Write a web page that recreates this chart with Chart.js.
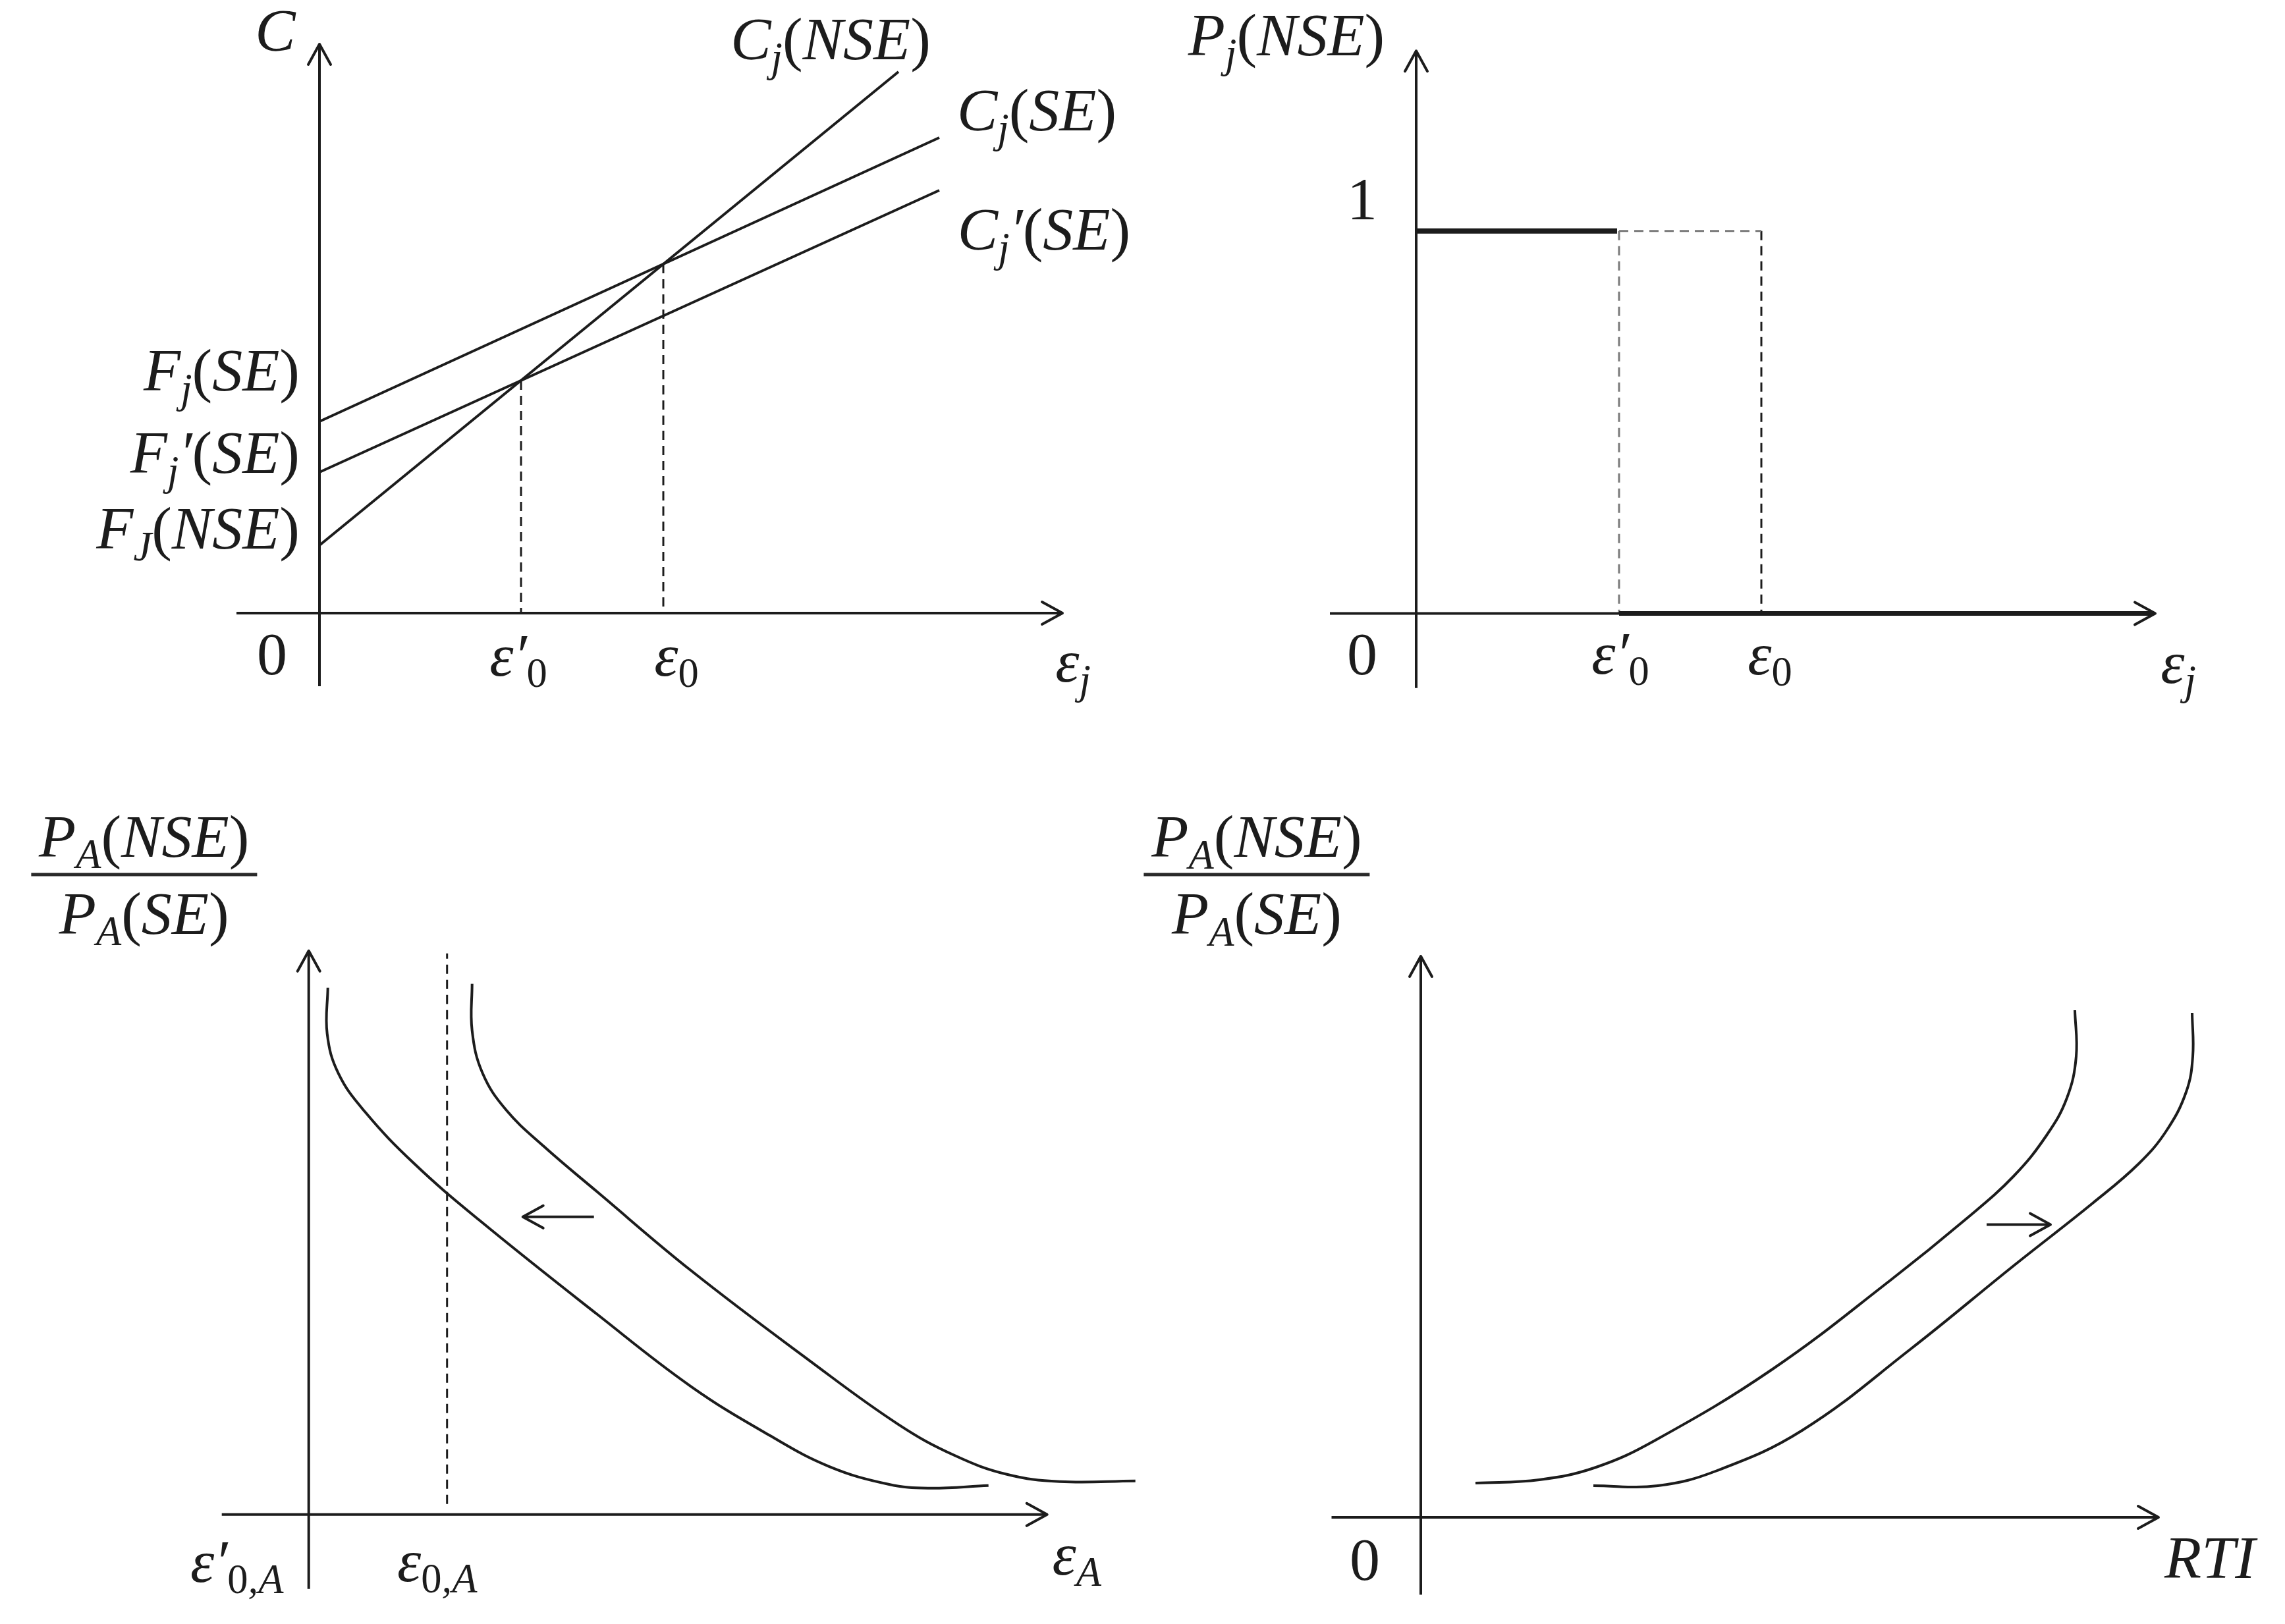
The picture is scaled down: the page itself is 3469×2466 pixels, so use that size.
<!DOCTYPE html>
<html>
<head>
<meta charset="utf-8">
<script src="https://cdn.jsdelivr.net/npm/chart.js@4.4.1/dist/chart.umd.min.js"></script>
<style>
html,body{margin:0;padding:0;background:#fff;}
#page{position:relative;width:3469px;height:2466px;overflow:hidden;background:#fff;}
.panel{position:absolute;}
.panel canvas{display:block;}
.lbl{position:absolute;font-family:'Liberation Serif','DejaVu Serif',serif;font-style:italic;font-size:92px;line-height:1;color:#1c1c1c;white-space:nowrap;}
.lbl sub{font-size:0.68em;vertical-align:baseline;position:relative;top:0.28em;line-height:0;}
.up{font-style:normal;}
.frac{display:flex;flex-direction:column;align-items:center;}
.frac .num{height:92px;padding:0 12px 10px 12px;border-bottom:5px solid #2a2a2a;}
.frac .den{height:92px;padding-top:10px;}
</style>
</head>
<body>
<div id="page"></div>
<script>
// ================= DATA =================
// Panel A (top-left): cost lines against epsilon_j
const costNSE_x = [0, 8.79];
const costNSE_y = [1.03, 8.22];
const costSE_x = [0, 9.41];
const costSE_y = [2.91, 7.22];
const costSEprime_x = [0, 9.41];
const costSEprime_y = [2.14, 6.42];
const costThresholds = [3.06, 5.22];        // eps'0, eps0
const costThresholdLevels = [3.53, 5.30];   // C at the two crossings

// Panel B (top-right): P_j(NSE) step
const probHigh_x = [0, 3.05];
const probHigh_y = [1, 1];
const probLow_x = [3.08, 11.15];
const probLow_y = [0, 0];
const probThresholds = [3.08, 5.24];        // eps'0, eps0

// Panel C (bottom-left): P_A(NSE)/P_A(SE) against epsilon_A
const ratioEpsNew_x = [0.29, 0.28, 0.45, 0.85, 1.60, 2.59, 4.38, 5.81, 7.00, 7.90, 8.80, 9.40, 10.32];
const ratioEpsNew_y = [8.00, 7.30, 6.70, 6.12, 5.33, 4.47, 3.04, 1.94, 1.20, 0.73, 0.46, 0.40, 0.44];
const ratioEpsOld_x = [2.48, 2.48, 2.64, 3.00, 3.57, 4.38, 5.81, 7.60, 8.95, 9.80, 10.60, 11.40, 12.55];
const ratioEpsOld_y = [8.06, 7.35, 6.70, 6.14, 5.59, 4.90, 3.70, 2.34, 1.37, 0.90, 0.61, 0.50, 0.51];
const eps0A_x = [2.10, 2.10];
const eps0A_y = [0.16, 8.52];
const shiftLeft_x = [4.33, 3.25];
const shiftLeft_y = [4.52, 4.52];

// Panel D (bottom-right): P_A(NSE)/P_A(SE) against RTI
const ratioRtiOld_x = [0.83, 1.80, 2.66, 3.56, 5.34, 7.13, 8.29, 9.00, 9.50, 9.81, 9.95, 9.93];
const ratioRtiOld_y = [0.52, 0.57, 0.76, 1.17, 2.25, 3.60, 4.54, 5.18, 5.80, 6.37, 7.00, 7.70];
const ratioRtiNew_x = [2.62, 3.60, 4.50, 5.79, 7.43, 9.00, 10.20, 10.90, 11.32, 11.62, 11.72, 11.71];
const ratioRtiNew_y = [0.48, 0.48, 0.71, 1.32, 2.55, 3.82, 4.77, 5.37, 5.87, 6.46, 7.00, 7.66];
const shiftRight_x = [8.59, 9.56];
const shiftRight_y = [4.445, 4.445];

// Axis extents (data units)
const axisA_x = [-1.26, 11.28], axisA_y = [-1.11, 8.64];
const axisB_x = [-1.31, 11.22], axisB_y = [-0.195, 1.471];
const axisC_x = [-1.32, 11.21], axisC_y = [-1.13, 8.56];
const axisD_x = [-1.355, 11.20], axisD_y = [-1.175, 8.52];

// Label texts
const labelsA = ['C', 'C<sub>j</sub>(NSE)', 'C<sub>j</sub>(SE)', 'C<sub>j</sub>′(SE)',
  'F<sub>j</sub>(SE)', 'F<sub>j</sub>′(SE)', 'F<sub>J</sub>(NSE)',
  '<span class="up">0</span>', 'ε′<sub class="up">0</sub>', 'ε<sub class="up">0</sub>', 'ε<sub>j</sub>'];
const labelsB = ['P<sub>j</sub>(NSE)', '<span class="up">1</span>', '<span class="up">0</span>',
  'ε′<sub class="up">0</sub>', 'ε<sub class="up">0</sub>', 'ε<sub>j</sub>'];
const fracNum = 'P<sub>A</sub>(NSE)';
const fracDen = 'P<sub>A</sub>(SE)';
const labelsC = ['ε′<sub><span class="up">0</span>,A</sub>', 'ε<sub><span class="up">0</span>,A</sub>', 'ε<sub>A</sub>'];
const labelsD = ['<span class="up">0</span>', 'RTI'];

// ================= LAYOUT =================
const INK = '#1c1c1c';
const GREY = '#7a7a7a';
const layouts = {
  A: {left: 0,    top: 0,    w: 1734, h: 1233, ox: 485,   oy: 931,    ux: 100, uy: 100},
  B: {left: 1734, top: 0,    w: 1735, h: 1233, ox: 2150,  oy: 931.6,  ux: 100, uy: 580.8},
  C: {left: 0,    top: 1233, w: 1734, h: 1233, ox: 468.7, oy: 2299.8, ux: 100, uy: 100},
  D: {left: 1734, top: 1233, w: 1735, h: 1233, ox: 2157,  oy: 2304,   ux: 100, uy: 100}
};
// label anchors: [x, y] in data units at the text baseline, plus alignment
const anchorsA = [[-0.67, 8.54, 'c'], [7.76, 8.41, 'c'], [10.89, 7.33, 'c'], [11.00, 5.52, 'c'],
  [-0.30, 3.38, 'r'], [-0.30, 2.13, 'r'], [-0.30, 0.98, 'r'],
  [-0.72, -0.93, 'c'], [3.02, -0.946, 'c'], [5.42, -0.946, 'c'], [11.44, -1.04, 'c']];
const anchorsB = [[-1.97, 1.459, 'c'], [-0.82, 1.031, 'c'], [-0.82, -0.159, 'c'],
  [3.10, -0.157, 'c'], [5.37, -0.159, 'c'], [11.57, -0.181, 'c']];
const fracAnchorC = [-2.50, 9.72];
const anchorsC = [[-1.09, -1.02, 'c'], [1.95, -1.01, 'c'], [11.66, -0.91, 'c']];
const fracAnchorD = [-2.49, 9.76];
const anchorsD = [[-0.85, -0.95, 'c'], [11.98, -0.92, 'c']];

// ================= HELPERS =================
const page = document.getElementById('page');
const pts = (xs, ys) => xs.map((x, i) => ({x: x, y: ys[i]}));
function line(xs, ys, extra) {
  return Object.assign({
    data: pts(xs, ys), borderColor: INK, backgroundColor: INK,
    borderWidth: 4, pointRadius: 0, pointHoverRadius: 0, tension: 0, fill: false, clip: false
  }, extra || {});
}
const arrowPlugin = {
  id: 'arrowheads',
  afterDatasetsDraw(chart) {
    const ctx = chart.ctx;
    chart.data.datasets.forEach((ds, i) => {
      if (!ds.arrowHead) return;
      const el = chart.getDatasetMeta(i).data;
      const a = el[el.length - 2], b = el[el.length - 1];
      const ang = Math.atan2(b.y - a.y, b.x - a.x);
      const L = 31, H = 17, c = Math.cos(ang), s = Math.sin(ang);
      ctx.save();
      ctx.strokeStyle = ds.borderColor; ctx.lineWidth = ds.borderWidth;
      ctx.lineCap = 'round'; ctx.lineJoin = 'round'; ctx.setLineDash([]);
      ctx.beginPath();
      ctx.moveTo(b.x - L * c + H * s, b.y - L * s - H * c);
      ctx.lineTo(b.x, b.y);
      ctx.lineTo(b.x - L * c - H * s, b.y - L * s + H * c);
      ctx.stroke();
      ctx.restore();
    });
  }
};
const fmt = t => t.replace(/[()]/g, m => '<span class="up">' + m + '</span>');

function makePanel(lay, datasets, labels, anchors, frac) {
  const wrap = document.createElement('div');
  wrap.className = 'panel';
  wrap.style.left = lay.left + 'px'; wrap.style.top = lay.top + 'px';
  wrap.style.width = lay.w + 'px'; wrap.style.height = lay.h + 'px';
  const cv = document.createElement('canvas');
  cv.width = lay.w; cv.height = lay.h;
  cv.style.width = lay.w + 'px'; cv.style.height = lay.h + 'px';
  wrap.appendChild(cv); page.appendChild(wrap);
  const oxl = lay.ox - lay.left, oyl = lay.oy - lay.top;
  const chart = new Chart(cv.getContext('2d'), {
    type: 'line',
    data: {datasets: datasets},
    options: {
      responsive: false, animation: false, devicePixelRatio: 1, events: [],
      layout: {padding: 0},
      plugins: {legend: {display: false}, tooltip: {enabled: false}},
      scales: {
        x: {type: 'linear', display: false, min: -oxl / lay.ux, max: (lay.w - oxl) / lay.ux},
        y: {type: 'linear', display: false, min: -(lay.h - oyl) / lay.uy, max: oyl / lay.uy}
      }
    },
    plugins: [arrowPlugin]
  });
  const sx = chart.scales.x, sy = chart.scales.y;
  labels.forEach((t, i) => {
    const an = anchors[i];
    const d = document.createElement('div');
    d.className = 'lbl';
    d.innerHTML = fmt(t);
    d.style.left = (lay.left + sx.getPixelForValue(an[0])) + 'px';
    d.style.top = (lay.top + sy.getPixelForValue(an[1])) + 'px';
    d.style.transform = 'translate(' + (an[2] === 'r' ? '-100%' : '-50%') + ', -0.8375em)';
    page.appendChild(d);
  });
  if (frac) {
    const d = document.createElement('div');
    d.className = 'lbl frac';
    d.innerHTML = '<div class="num">' + fmt(frac.num) + '</div><div class="den">' + fmt(frac.den) + '</div>';
    d.style.left = (lay.left + sx.getPixelForValue(frac.at[0])) + 'px';
    d.style.top = (lay.top + sy.getPixelForValue(frac.at[1])) + 'px';
    d.style.transform = 'translate(-50%, -104.5px)';
    page.appendChild(d);
  }
  return chart;
}

// ================= PANELS =================
const dashed = {borderWidth: 3, borderDash: [14, 9]};
const curve = {tension: 0.4, capBezierPoints: false};

makePanel(layouts.A, [
  line(axisA_x, [0, 0], {arrowHead: true}),
  line([0, 0], axisA_y, {arrowHead: true}),
  line(costNSE_x, costNSE_y),
  line(costSE_x, costSE_y),
  line(costSEprime_x, costSEprime_y),
  line([costThresholds[0], costThresholds[0]], [costThresholdLevels[0], 0], dashed),
  line([costThresholds[1], costThresholds[1]], [costThresholdLevels[1], 0], dashed)
], labelsA, anchorsA);

makePanel(layouts.B, [
  line(axisB_x, [0, 0], {arrowHead: true}),
  line([0, 0], axisB_y, {arrowHead: true}),
  line(probHigh_x, probHigh_y, {borderWidth: 8}),
  line(probLow_x, probLow_y, {borderWidth: 7}),
  line(probThresholds, [1, 1], Object.assign({}, dashed, {borderColor: GREY})),
  line([probThresholds[0], probThresholds[0]], [1, 0], Object.assign({}, dashed, {borderColor: GREY})),
  line([probThresholds[1], probThresholds[1]], [1, 0], dashed)
], labelsB, anchorsB);

makePanel(layouts.C, [
  line(axisC_x, [0, 0], {arrowHead: true}),
  line([0, 0], axisC_y, {arrowHead: true}),
  line(ratioEpsNew_x, ratioEpsNew_y, curve),
  line(ratioEpsOld_x, ratioEpsOld_y, curve),
  line(eps0A_x, eps0A_y, dashed),
  line(shiftLeft_x, shiftLeft_y, {arrowHead: true})
], labelsC, anchorsC, {num: fracNum, den: fracDen, at: fracAnchorC});

makePanel(layouts.D, [
  line(axisD_x, [0, 0], {arrowHead: true}),
  line([0, 0], axisD_y, {arrowHead: true}),
  line(ratioRtiOld_x, ratioRtiOld_y, curve),
  line(ratioRtiNew_x, ratioRtiNew_y, curve),
  line(shiftRight_x, shiftRight_y, {arrowHead: true})
], labelsD, anchorsD, {num: fracNum, den: fracDen, at: fracAnchorD});
</script>
</body>
</html>
